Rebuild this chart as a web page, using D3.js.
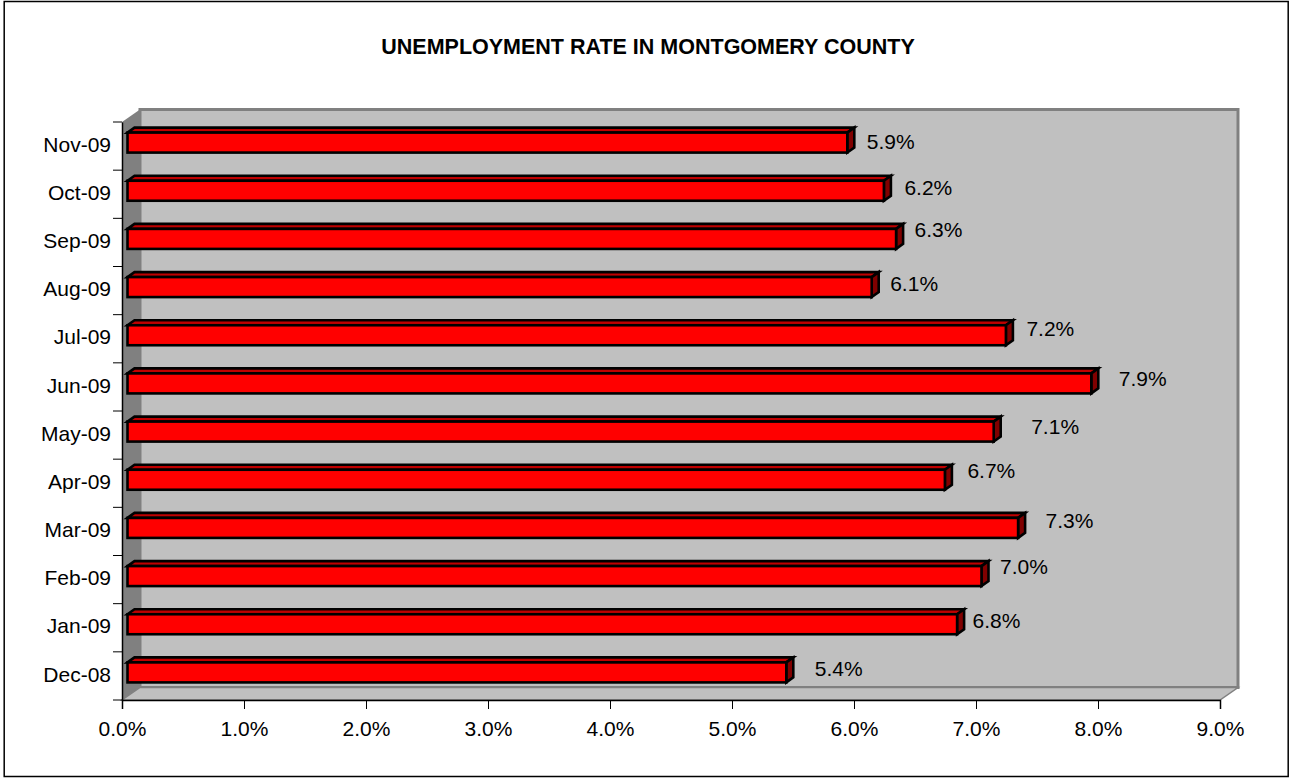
<!DOCTYPE html>
<html>
<head>
<meta charset="utf-8">
<script src="https://cdn.jsdelivr.net/npm/d3@7"></script>
<style>
  html, body { margin: 0; padding: 0; background: #fff; }
  svg { display: block; }
  text { font-family: "Liberation Sans", Arial, sans-serif; fill: #000; }
</style>
</head>
<body>
<div id="chart"></div>
<script>
'use strict';

var months = ['Dec-08', 'Jan-09', 'Feb-09', 'Mar-09', 'Apr-09', 'May-09',
  'Jun-09', 'Jul-09', 'Aug-09', 'Sep-09', 'Oct-09', 'Nov-09'];
var rates = [5.4, 6.8, 7.0, 7.3, 6.7, 7.1, 7.9, 7.2, 6.1, 6.3, 6.2, 5.9];
var rateTicks = [0, 1, 2, 3, 4, 5, 6, 7, 8, 9];

// labels were dragged by hand in the original, so each one has its own nudge
var labelDx = [29, 16, 19, 28, 23, 38, 28, 21, 19, 19, 21, 20];
var labelDy = [-3, -3, -9, -6, -8, -4, -4, -6, -3, -8, -2, 0];

var w = 1289, h = 778;
var x0 = 122, x1 = 1220, yBottom = 700, yTop = 122;
var wallDx = 18, wallDy = -12.5;
var barDx = 7, barDy = -5, barInset = 5.5, barHeight = 20;
var fontSize = 21;

var svg = d3.select('#chart').append('svg')
  .attr('width', w)
  .attr('height', h)
  .attr('viewBox', '0 0 ' + w + ' ' + h);

var x = d3.scaleLinear().domain([0, 9]).range([x0, x1]);
var y = d3.scaleBand().domain(months).range([yBottom, yTop]);

function poly(points) {
  return points.map(function (p) { return p.join(','); }).join(' ');
}

// outer frame
svg.append('rect')
  .attr('x', 4.2).attr('y', 1.5)
  .attr('width', 1284).attr('height', 775)
  .attr('fill', '#fff')
  .attr('stroke', '#000')
  .attr('stroke-width', 1.5);

svg.append('text')
  .attr('x', 648)
  .attr('y', 53.5)
  .attr('text-anchor', 'middle')
  .attr('font-size', 21.5)
  .attr('font-weight', 'bold')
  .text('UNEMPLOYMENT RATE IN MONTGOMERY COUNTY');

// back wall
svg.append('rect')
  .attr('x', x0 + wallDx).attr('y', yTop + wallDy)
  .attr('width', x1 - x0).attr('height', yBottom - yTop)
  .attr('fill', '#c0c0c0')
  .attr('stroke', '#808080')
  .attr('stroke-width', 3);

// side wall
svg.append('polygon')
  .attr('points', poly([[x0, yTop], [x0 + wallDx, yTop + wallDy],
    [x0 + wallDx, yBottom + wallDy], [x0, yBottom]]))
  .attr('fill', '#808080');

// floor
svg.append('polygon')
  .attr('points', poly([[x0, yBottom], [x0 + wallDx, yBottom + wallDy],
    [x1 + wallDx, yBottom + wallDy], [x1, yBottom]]))
  .attr('fill', '#c0c0c0')
  .attr('stroke', '#808080')
  .attr('stroke-width', 1.5);

// bars
var bars = svg.append('g').selectAll('g')
  .data(months.map(function (m, i) { return { month: m, rate: rates[i] }; }))
  .enter().append('g')
  .attr('stroke', '#000')
  .attr('stroke-width', 2.6)
  .attr('stroke-linejoin', 'miter');

function barTop(d) { return y(d.month) + (y.bandwidth() - barHeight) / 2 - 3.5; }
function barRight(d) { return x(d.rate) + barInset; }
var barLeft = x0 + barInset;

bars.append('polygon')
  .attr('fill', '#c00000')
  .attr('points', function (d) {
    var t = barTop(d), r = barRight(d);
    return poly([[barLeft, t], [barLeft + barDx, t + barDy], [r + barDx, t + barDy], [r, t]]);
  });

bars.append('polygon')
  .attr('fill', '#800000')
  .attr('points', function (d) {
    var t = barTop(d), r = barRight(d);
    return poly([[r, t], [r + barDx, t + barDy], [r + barDx, t + barDy + barHeight], [r, t + barHeight]]);
  });

bars.append('rect')
  .attr('fill', '#ff0000')
  .attr('x', barLeft)
  .attr('y', barTop)
  .attr('width', function (d) { return barRight(d) - barLeft; })
  .attr('height', barHeight);

// value labels
svg.append('g').selectAll('text')
  .data(rates)
  .enter().append('text')
  .attr('x', function (d, i) { return x(d) + 5 + labelDx[i]; })
  .attr('y', function (d, i) { return y(months[i]) + y.bandwidth() / 2 + labelDy[i] + 3; })
  .attr('font-size', fontSize)
  .text(function (d) { return d.toFixed(1) + '%'; });

// axes
var xAxis = d3.axisBottom(x)
  .tickValues(rateTicks)
  .tickSize(9)
  .tickPadding(12)
  .tickFormat(function (d) { return d.toFixed(1) + '%'; });

var xAxisG = svg.append('g')
  .attr('transform', 'translate(0,' + yBottom + ')')
  .call(xAxis);

var yAxis = d3.axisLeft(y).tickSize(0).tickPadding(11);
var yAxisG = svg.append('g')
  .attr('transform', 'translate(' + x0 + ',0)')
  .call(yAxis);

// category ticks sit between the bands, not at their centres
yAxisG.selectAll('.boundary')
  .data(months.concat(['top']))
  .enter().append('line')
  .attr('class', 'boundary')
  .attr('x1', -9)
  .attr('x2', 0)
  .attr('y1', function (d, i) { return i < months.length ? y(d) + y.bandwidth() : yTop; })
  .attr('y2', function (d, i) { return i < months.length ? y(d) + y.bandwidth() : yTop; })
  .attr('stroke', '#000');

yAxisG.selectAll('.tick text').attr('y', -1);

[xAxisG, yAxisG].forEach(function (g) {
  g.attr('font-family', null).attr('font-size', null);
  g.selectAll('text').attr('font-size', fontSize).attr('fill', '#000');
  g.selectAll('.domain').attr('stroke', '#000').attr('stroke-width', 1.5);
  g.selectAll('.tick line').attr('stroke', '#000');
});
</script>
</body>
</html>
